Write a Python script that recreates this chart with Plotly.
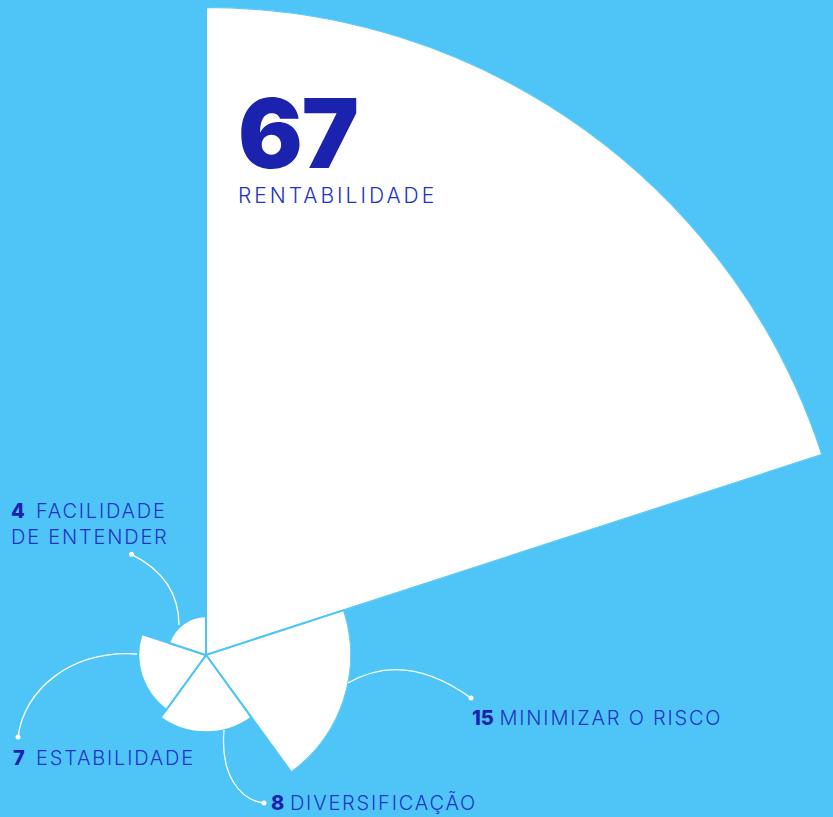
import math
import plotly.graph_objects as go

# ---- data ----
categories = ["RENTABILIDADE", "MINIMIZAR O RISCO", "DIVERSIFICAÇÃO", "ESTABILIDADE", "FACILIDADE DE ENTENDER"]
values = [67, 15, 8, 7, 4]
label_lines = ["RENTABILIDADE", "MINIMIZAR O RISCO", "DIVERSIFICAÇÃO", "ESTABILIDADE", "FACILIDADE<br>DE ENTENDER"]

BG = "#4FC5F7"
NUM = "#1B22AE"
TXT = "#2233C4"
W, H = 833, 817

n = len(categories)
step = 360 / n
thetas = [step * i + step / 2 for i in range(n)]

# geometry (pixels)
CX, CY = 206, 655
R_BIG = 648.0
vmax = max(values)
px_per_unit = R_BIG / vmax

fig = go.Figure()

# big wedge in a sector subplot
fig.add_trace(go.Barpolar(
    r=values[:1], theta=thetas[:1], width=[step], subplot="polar",
    marker=dict(color="white", line=dict(color=BG, width=2)),
    hoverinfo="skip", showlegend=False,
))
# smaller wedges in a full-circle subplot with the same scale
fig.add_trace(go.Barpolar(
    r=values[1:], theta=thetas[1:], width=[step] * (n - 1), subplot="polar2",
    marker=dict(color="white", line=dict(color=BG, width=2)),
    hoverinfo="skip", showlegend=False,
))

sector = [90 - step, 90]
bx = math.cos(math.radians(sector[0]))
r2max = max(values[1:])
R2 = r2max * px_per_unit

hidden_ang = dict(visible=False, direction="clockwise", rotation=90, showgrid=False, showline=False, showticklabels=False, ticks="")
hidden_rad = dict(visible=False, showgrid=False, showline=False, showticklabels=False, ticks="")

fig.update_layout(
    width=W, height=H,
    margin=dict(l=0, r=0, t=0, b=0),
    paper_bgcolor=BG, plot_bgcolor=BG,
    showlegend=False,
    polar=dict(
        domain=dict(x=[CX / W, (CX + R_BIG * bx) / W], y=[1 - CY / H, 1 - (CY - R_BIG) / H]),
        sector=sector, bgcolor="rgba(0,0,0,0)",
        angularaxis=hidden_ang, radialaxis=dict(range=[0, vmax], **hidden_rad),
    ),
    polar2=dict(
        domain=dict(x=[(CX - R2) / W, (CX + R2) / W], y=[1 - (CY + R2) / H, 1 - (CY - R2) / H]),
        bgcolor="rgba(0,0,0,0)",
        angularaxis=hidden_ang, radialaxis=dict(range=[0, r2max], **hidden_rad),
    ),
)

def px(x, y):
    return x / W, 1 - y / H

FONT = "Inter"

# big label: number and category in one block (line pitch = 1.3 * 27px)
x, y = px(236, 210)
fig.add_annotation(
    x=x, y=y, xref="paper", yref="paper", xanchor="left", yanchor="bottom", align="left",
    text=(f"<span style='font-size:96px;font-weight:900;color:{NUM};letter-spacing:-1px'>{values[0]}</span>"
          f"<br><span style='font-size:21px;letter-spacing:3px'>{label_lines[0]}</span>"),
    showarrow=False, font=dict(family=FONT, size=27, color=TXT, weight=300))

# small labels: (pixel pos of left/middle, separator)
small_pos = {1: (470, 718, " "), 2: (269, 803, " "), 3: (11, 758, "  "), 4: (9, 524, "  ")}
for i, (lx, ly, sep) in small_pos.items():
    x, y = px(lx, ly)
    lab = "<br>".join(f"<span style='letter-spacing:1.8px'>{part}</span>" for part in label_lines[i].split("<br>"))
    fig.add_annotation(x=x, y=y, xref="paper", yref="paper", xanchor="left", yanchor="middle",
                       align="left", showarrow=False,
                       text=f"<span style='font-weight:800;color:{NUM}'>{values[i]}</span>{sep}{lab}",
                       font=dict(family=FONT, size=20, color=TXT, weight=300))

# connector curves (decorative)
def P(x, y):
    a, b = px(x, y)
    return f"{a:.5f},{b:.5f}"

paths = [
    f"M{P(348,683)} Q{P(405,650)} {P(471,698)}",
    f"M{P(224,730)} C{P(220,775)} {P(240,800)} {P(264,803)}",
    f"M{P(137,654)} C{P(70,650)} {P(24,690)} {P(18,737)}",
    f"M{P(179,625)} Q{P(179,578)} {P(131.5,554.3)}",
]
for p in paths:
    fig.add_shape(type="path", path=p, xref="paper", yref="paper",
                  line=dict(color="white", width=1.3), layer="above")
for (dx, dy) in [(471, 698), (264, 803), (18, 737), (131.5, 554.3)]:
    a, b = px(dx, dy)
    fig.add_shape(type="circle", xref="paper", yref="paper", xsizemode="pixel", ysizemode="pixel",
                  xanchor=a, yanchor=b, x0=-2.5, x1=2.5, y0=-2.5, y1=2.5,
                  fillcolor="white", line=dict(width=0), layer="above")

fig.write_html("out.html", config={"displayModeBar": False},
               post_script="document.body.style.margin='0';document.body.style.overflow='hidden';")
